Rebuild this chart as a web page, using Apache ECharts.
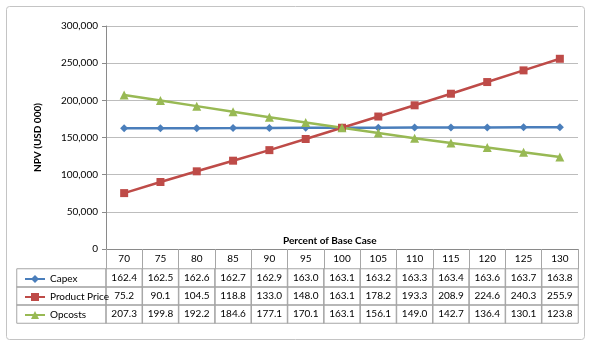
<!DOCTYPE html>
<html>
<head>
<meta charset="utf-8">
<script src="https://cdn.jsdelivr.net/npm/echarts@6/dist/echarts.min.js"></script>
<style>html,body{margin:0;padding:0;background:#fff;}#c{width:598px;height:344px;}</style>
</head>
<body>
<div id="c"></div>
<script>
// ---- data (NPV, USD 000 thousands as in table) ----
var categories = ['70','75','80','85','90','95','100','105','110','115','120','125','130'];
var seriesNames = ['Capex','Product Price','Opcosts'];
var capex = [162.4,162.5,162.6,162.7,162.9,163.0,163.1,163.2,163.3,163.4,163.6,163.7,163.8];
var productPrice = [75.2,90.1,104.5,118.8,133.0,148.0,163.1,178.2,193.3,208.9,224.6,240.3,255.9];
var opcosts = [207.3,199.8,192.2,184.6,177.1,170.1,163.1,156.1,149.0,142.7,136.4,130.1,123.8];
var yTicks = [0,50000,100000,150000,200000,250000,300000];

var allSeries = [capex, productPrice, opcosts];
var colors = ['#4A7EBB','#BE4B48','#98B954'];
var symbols = ['diamond','rect','triangle'];
var symbolSizes = [8,8,9];
var FONT = 'Lato';

var tableData = [];
allSeries.forEach(function (arr, r) {
  arr.forEach(function (v, c) { tableData.push([c, r, v]); });
});
var legendCells = seriesNames.map(function (n, r) { return [0, r, 0]; });

var lineSeries = allSeries.map(function (arr, i) {
  return {
    name: seriesNames[i], type: 'line', xAxisIndex: 0, yAxisIndex: 0,
    data: arr.map(function (v) { return v * 1000; }),
    symbol: symbols[i], symbolSize: symbolSizes[i], showSymbol: true,
    lineStyle: { color: colors[i], width: 2.5 },
    itemStyle: { color: colors[i] },
    emphasis: { disabled: true }, animation: false
  };
});

var chart = echarts.init(document.getElementById('c'), null, { renderer: 'canvas' });
chart.setOption({
  animation: false,
  backgroundColor: '#fff',
  textStyle: { fontFamily: FONT },
  graphic: [{
    type: 'rect', shape: { x: 6.5, y: 6.5, width: 578, height: 333, r: 3 },
    style: { fill: 'none', stroke: '#c4c4c4', lineWidth: 1 }, silent: true, z: -10
  }],
  title: {
    text: 'Percent of Base Case', left: 278, top: 231,
    textStyle: { fontFamily: FONT, fontSize: 10, fontWeight: 'bold', color: '#000' }
  },
  legend: {
    data: seriesNames, orient: 'vertical', left: 19, top: 268,
    itemWidth: 20, itemHeight: 10, itemGap: 6,
    textStyle: { fontFamily: FONT, fontSize: 10, color: '#000', lineHeight: 12 },
    selectedMode: false
  },
  grid: [
    { left: 106, right: 20, top: 26, bottom: 95 },
    { left: 106, right: 20, top: 269, height: 54 },
    { left: 17, width: 89, top: 269, height: 54 }
  ],
  xAxis: [
    { gridIndex: 0, type: 'category', data: categories, boundaryGap: true,
      axisLine: { lineStyle: { color: '#8a8a8a', width: 1 } },
      axisTick: { show: true, length: 20, alignWithLabel: false, lineStyle: { color: '#a6a6a6' } },
      axisLabel: { margin: 5, fontFamily: FONT, fontSize: 10, color: '#000' } },
    { gridIndex: 1, type: 'category', data: categories, show: false },
    { gridIndex: 2, type: 'category', data: ['legend'], show: false }
  ],
  yAxis: [
    { gridIndex: 0, type: 'value', min: yTicks[0], max: yTicks[yTicks.length - 1], interval: 50000,
      name: 'NPV (USD 000)', nameLocation: 'middle', nameGap: 63, nameRotate: 90,
      nameTextStyle: { fontFamily: FONT, fontSize: 10, fontWeight: 'bold', color: '#000' },
      axisLine: { show: true, lineStyle: { color: '#8a8a8a' } },
      axisTick: { show: true, length: 4, lineStyle: { color: '#8a8a8a' } },
      splitLine: { lineStyle: { color: '#bdbdbd' } },
      axisLabel: { margin: 8, fontFamily: FONT, fontSize: 10, color: '#000',
        formatter: function (v) { return v.toLocaleString('en-US'); } } },
    { gridIndex: 1, type: 'category', data: seriesNames, inverse: true, show: false },
    { gridIndex: 2, type: 'category', data: seriesNames, inverse: true, show: false }
  ],
  series: lineSeries.concat([
    { type: 'heatmap', xAxisIndex: 1, yAxisIndex: 1, data: tableData,
      itemStyle: { color: 'rgba(255,255,255,0)', borderColor: '#a6a6a6', borderWidth: 1 },
      label: { show: true, fontFamily: FONT, fontSize: 10, color: '#000',
        formatter: function (p) { return p.value[2].toFixed(1); } },
      emphasis: { disabled: true }, silent: true },
    { type: 'heatmap', xAxisIndex: 2, yAxisIndex: 2, data: legendCells,
      itemStyle: { color: 'rgba(255,255,255,0)', borderColor: '#a6a6a6', borderWidth: 1 },
      label: { show: false }, emphasis: { disabled: true }, silent: true, z: 0 }
  ])
});
</script>
</body>
</html>
